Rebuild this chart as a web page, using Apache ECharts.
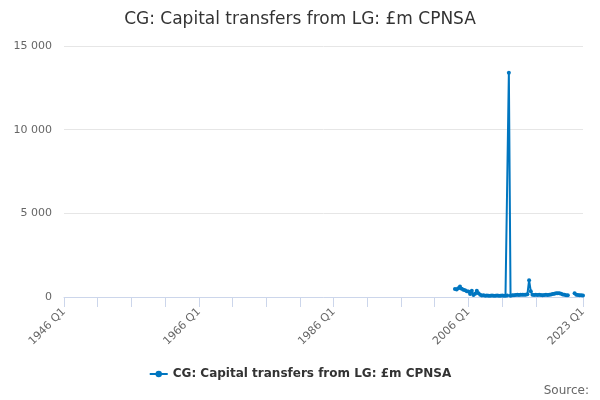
<!DOCTYPE html>
<html><head><meta charset="utf-8">
<script src="https://cdn.jsdelivr.net/npm/echarts@6/dist/echarts.min.js"></script>
<style>html,body{margin:0;padding:0;background:#fff}#c{width:600px;height:400px}</style>
</head><body><div id="c"></div>
<script>
const firstYear = 1946, lastYear = 2023;
const categories = [];
for (let y = firstYear; y <= lastYear; y++) {
  for (let q = 1; q <= 4; q++) {
    if (y === lastYear && q > 1) break;
    categories.push(y + ' Q' + q);
  }
}
const seriesName = 'CG: Capital transfers from LG: £m CPNSA';
const dataStart = '2004 Q1';
const values = [
  480, 450, 520, 630, 500, 430, 400, 350, 330, 180, 380, 120, 200, 380, 220, 140,
  90, 100, 80, 90, 70, 80, 90, 70, 80, 90, 80, 70, 90, 80, 70, 90,
  13400, 70, 100, 110, 120, 130, 120, 130, 140, 130, 140, 160,
  1000, 350, 130, 120, 130, 120, 130, 120, 110, 120, 130, 120,
  130, 150, 180, 200, 220, 230, 220, 200, 150, 130, 110, 100,
  null, null, null, 230, 140, 120, 110, 100, 90
];
const yTicks = [0, 5000, 10000, 15000];

const startIdx = categories.indexOf(dataStart);
const seriesData = values.map((v, i) => [categories[startIdx + i], v]);
const lastIdx = categories.length - 1;

const chart = echarts.init(document.getElementById('c'));
chart.setOption({
  animation: false,
  textStyle: { fontFamily: 'DejaVu Sans' },
  title: {
    text: 'CG: Capital transfers from LG: £m CPNSA',
    left: 'center', top: 6,
    textStyle: { fontSize: 17, fontWeight: 'normal', color: '#333' }
  },
  grid: { left: 64, right: 17, top: 46, bottom: 103, containLabel: false },
  legend: {
    bottom: 15, left: 'center',
    itemWidth: 18, itemHeight: 8,
    textStyle: { fontSize: 12, fontWeight: 'bold', color: '#333' },
    data: [seriesName]
  },
  graphic: [{
    type: 'text', right: 11, bottom: 3,
    style: { text: 'Source:', fill: '#666', fontSize: 12, fontFamily: 'DejaVu Sans' }
  }],
  xAxis: {
    type: 'category',
    data: categories,
    boundaryGap: false,
    axisLine: { lineStyle: { color: '#ccd6eb' } },
    axisTick: {
      length: 10,
      interval: (i) => (i % 20 === 0 && i <= 280) || i === lastIdx,
      lineStyle: { color: '#ccd6eb' }
    },
    axisLabel: {
      rotate: 45,
      interval: (i) => i % 80 === 0 || i === lastIdx,
      color: '#666', fontSize: 11, margin: 13
    },
    splitLine: { show: false }
  },
  yAxis: {
    type: 'value',
    min: yTicks[0], max: yTicks[yTicks.length - 1], interval: yTicks[1] - yTicks[0],
    axisLine: { show: false },
    axisTick: { show: false },
    axisLabel: {
      color: '#666', fontSize: 11, margin: 12,
      formatter: (v) => String(v).replace(/\B(?=(\d{3})+(?!\d))/g, ' ')
    },
    splitLine: { lineStyle: { color: '#e6e6e6' } }
  },
  series: [{
    name: seriesName,
    type: 'line',
    data: seriesData,
    connectNulls: false,
    symbol: 'circle',
    symbolSize: 4,
    showAllSymbol: true,
    itemStyle: { color: '#0076c0' },
    lineStyle: { color: '#0076c0', width: 2 }
  }]
});
</script>
</body></html>
